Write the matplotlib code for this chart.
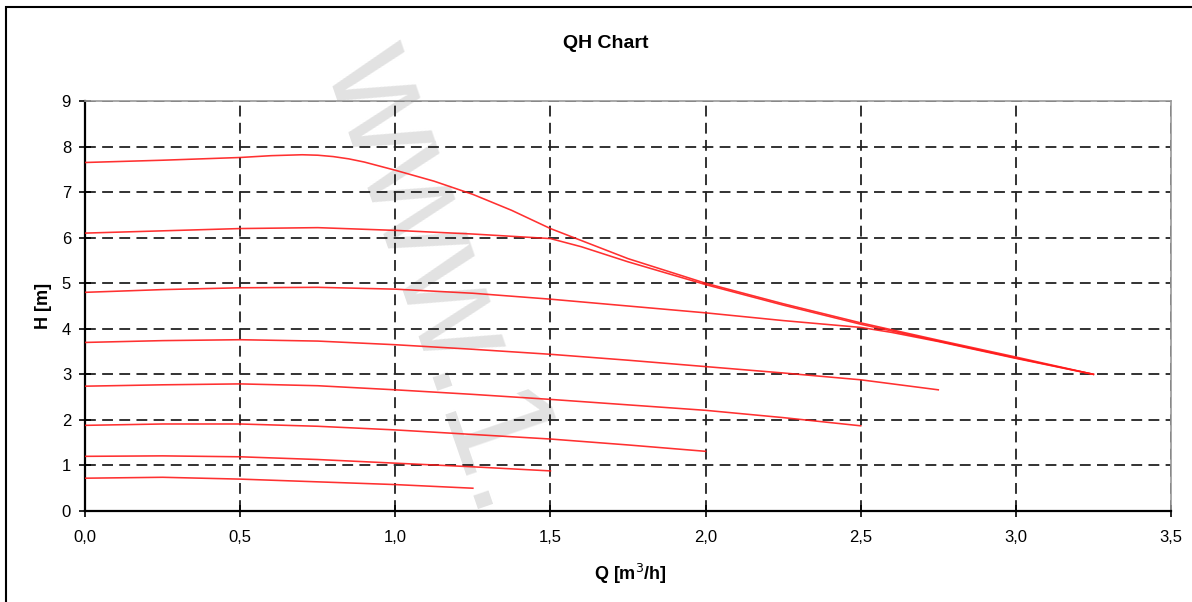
import matplotlib.pyplot as plt
from matplotlib.patches import Rectangle
from matplotlib.ticker import FuncFormatter

plt.rcParams['font.family'] = ['Liberation Sans', 'DejaVu Sans']

# QH curves, one per speed step (Q in m3/h, H in m)
q1 = [0.0, 0.25, 0.5, 0.6, 0.65, 0.7, 0.75, 0.8, 0.85, 0.9, 1.0, 1.125, 1.25, 1.375, 1.5, 1.75, 2.0, 2.25, 2.5, 2.75, 3.0, 3.25]
h1 = [7.65, 7.70, 7.76, 7.80, 7.81, 7.82, 7.81, 7.78, 7.73, 7.66, 7.48, 7.24, 6.95, 6.60, 6.20, 5.54, 5.00, 4.55, 4.13, 3.75, 3.38, 3.00]
q2 = [0.0, 0.25, 0.5, 0.75, 1.0, 1.25, 1.4, 1.5, 1.6, 1.75, 2.0, 2.25, 2.5, 2.75, 3.0, 3.25]
h2 = [6.10, 6.15, 6.20, 6.22, 6.16, 6.08, 6.02, 5.98, 5.80, 5.47, 4.97, 4.52, 4.10, 3.73, 3.36, 3.00]
q3 = [0.0, 0.25, 0.5, 0.75, 1.0, 1.25, 1.5, 1.75, 2.0, 2.25, 2.5, 2.6, 2.75, 3.0, 3.25]
h3 = [4.80, 4.86, 4.90, 4.91, 4.87, 4.78, 4.65, 4.50, 4.35, 4.18, 4.03, 3.92, 3.72, 3.35, 3.00]
q4 = [0.0, 0.25, 0.5, 0.75, 1.0, 1.25, 1.5, 1.75, 2.0, 2.25, 2.5, 2.75]
h4 = [3.70, 3.74, 3.76, 3.73, 3.65, 3.55, 3.44, 3.31, 3.17, 3.03, 2.88, 2.66]
q5 = [0.0, 0.25, 0.5, 0.75, 1.0, 1.25, 1.5, 1.75, 2.0, 2.25, 2.5]
h5 = [2.74, 2.77, 2.79, 2.75, 2.66, 2.56, 2.45, 2.33, 2.21, 2.05, 1.87]
q6 = [0.0, 0.25, 0.5, 0.75, 1.0, 1.25, 1.5, 1.75, 2.0]
h6 = [1.88, 1.91, 1.91, 1.86, 1.78, 1.68, 1.58, 1.45, 1.31]
q7 = [0.0, 0.25, 0.5, 0.75, 1.0, 1.25, 1.5]
h7 = [1.20, 1.21, 1.19, 1.13, 1.05, 0.97, 0.88]
q8 = [0.0, 0.25, 0.5, 0.75, 1.0, 1.25]
h8 = [0.72, 0.74, 0.70, 0.64, 0.58, 0.50]

curves = [(q1, h1), (q2, h2), (q3, h3), (q4, h4), (q5, h5), (q6, h6), (q7, h7), (q8, h8)]

xticks = [0.0, 0.5, 1.0, 1.5, 2.0, 2.5, 3.0, 3.5]
yticks = list(range(0, 10))

fig = plt.figure(figsize=(11.92, 6.02), dpi=100)
ax = fig.add_axes([85 / 1192, 1 - 511 / 602, (1171 - 85) / 1192, (511 - 101) / 602])

# outer frame of the chart area
fig.patches.append(Rectangle((6 / 1192, -0.05), 1.1, 1 - 7 / 602 + 0.05, transform=fig.transFigure,
                             fill=False, edgecolor='black', linewidth=1.5))

# faint watermark
ax.text(440 / 1192, 1 - 280 / 602, 'www.1.', transform=fig.transFigure, rotation=-71,
        rotation_mode='anchor', ha='center', va='center', fontsize=108, color='#e2e2e2',
        family='Liberation Sans', zorder=0.5, clip_on=False)

for q, h in curves:
    ax.plot(q, h, color='#ff1a1a', linewidth=1.15, alpha=0.9, zorder=3)

ax.set_xlim(0, 3.5)
ax.set_ylim(0, 9)
ax.set_xticks(xticks)
ax.set_yticks(yticks)
ax.xaxis.set_major_formatter(FuncFormatter(lambda v, p: f'{v:.1f}'.replace('.', ',')))
ax.tick_params(direction='inout', length=8, width=1.2, labelsize=12, colors='black', pad=10)
ax.tick_params(axis='y', pad=6)

ax.grid(True, color='#222222', linestyle=(0, (6, 3.5)), linewidth=1.3)
ax.patch.set_alpha(0)

for side in ['left', 'bottom']:
    ax.spines[side].set_color('black')
    ax.spines[side].set_linewidth(1.6)
for side in ['top', 'right']:
    ax.spines[side].set_color('#999999')
    ax.spines[side].set_linewidth(1.2)

fig.text(606 / 1192, 1 - 44 / 602, 'QH Chart', ha='center', va='center', fontsize=14, fontweight='bold')
fig.text(44 / 1192, 1 - 306 / 602, 'H [m]', ha='center', va='center', rotation=90, fontsize=13, fontweight='bold')
fig.text(630 / 1192, 1 - 574 / 602, 'Q [m$^3$/h]', ha='center', va='center', fontsize=13, fontweight='bold')

fig.savefig('out.png', dpi=100)
